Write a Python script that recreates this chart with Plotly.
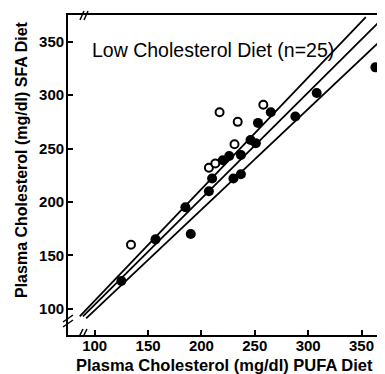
import plotly.graph_objects as go

# Data
pufa_filled = [125, 157, 190, 185, 207, 210, 230, 237, 220, 226, 237, 246, 251, 253, 265, 288, 308, 363]
sfa_filled = [126, 165, 170, 195, 210, 222, 222, 226, 239, 243, 244, 258, 255, 274, 284, 280, 302, 326]
pufa_open = [134, 207, 213, 231, 234, 217, 258]
sfa_open = [160, 232, 236, 254, 275, 284, 291]

upper_x = [86, 354]
upper_y = [93, 373]
middle_x = [89, 368]
middle_y = [93, 370]
lower_x = [92, 372]
lower_y = [91, 355]

tick_vals = [100, 150, 200, 250, 300, 350]
tick_text = ["100", "150", "200", "250", "300", "350"]

OFF = 8  # page body margin
W, H = 385 - OFF, 374 - OFF
PL, PR, PT, PB = 68, 385, 15, 335  # plot area in window pixels
L, R, T, B = PL - OFF, 0, PT - OFF, H - (PB - OFF)

fig = go.Figure()
for xs, ys in [(upper_x, upper_y), (middle_x, middle_y), (lower_x, lower_y)]:
    fig.add_trace(go.Scatter(x=xs, y=ys, mode="lines",
                             line=dict(color="black", width=1.8), showlegend=False, hoverinfo="skip"))
fig.add_trace(go.Scatter(x=pufa_filled, y=sfa_filled, mode="markers",
                         marker=dict(color="black", size=10, line=dict(width=0)), showlegend=False))
fig.add_trace(go.Scatter(x=pufa_open, y=sfa_open, mode="markers",
                         marker=dict(color="white", size=8, symbol="circle",
                                     line=dict(color="black", width=2)), showlegend=False))

font_tick = dict(family="Liberation Sans, Arial", size=15, color="black", weight="bold")

fig.update_xaxes(range=[75, 372], tickvals=tick_vals, ticktext=tick_text, ticks="inside",
                 ticklen=5, tickwidth=1.5, tickcolor="black", showline=True, linecolor="black",
                 linewidth=1.8, mirror=True, showgrid=False, zeroline=False, tickfont=font_tick,
                 ticklabelstandoff=-4)
fig.update_yaxes(range=[75.5, 375], tickvals=tick_vals, ticktext=tick_text, ticks="inside",
                 ticklen=5, tickwidth=1.5, tickcolor="black", showline=True, linecolor="black",
                 linewidth=1.8, mirror=False, showgrid=False, zeroline=False, tickfont=font_tick,
                 ticklabelstandoff=-1)

def px2paper(px, py):
    return (px - PL) / (PR - PL), (PB - py) / (PB - PT)

shapes = []
def seg(x0, y0, x1, y1):
    a, b = px2paper(x0, y0)
    c, d = px2paper(x1, y1)
    shapes.append(dict(type="line", xref="paper", yref="paper", x0=a, y0=b, x1=c, y1=d,
                       line=dict(color="black", width=1.5)))

# break marks
seg(80, 20, 84, 11); seg(84, 20, 88, 11)      # top
seg(79, 337, 83, 329); seg(83, 337, 87, 329)  # bottom x axis
seg(63, 322, 73, 315); seg(63, 327, 73, 320)  # y axis
fig.update_layout(shapes=shapes)

def ann(text, px, py, size, bold=False, angle=0, xanchor="center"):
    x, y = px2paper(px, py)
    f = dict(family="Liberation Sans, Arial", size=size, color="black")
    if bold:
        f["weight"] = "bold"
    fig.add_annotation(text=text, xref="paper", yref="paper", x=x, y=y, xanchor=xanchor,
                       yanchor="middle", textangle=angle, showarrow=False, font=f)

ann("Low Cholesterol Diet (n=25)", 90, 50, 19.5, xanchor="left")
ann("Plasma Cholesterol (mg/dl) PUFA Diet", 224, 365, 16.5, bold=True)
ann("Plasma Cholesterol (mg/dl) SFA Diet", 21, 160, 16, bold=True, angle=-90)

fig.update_layout(width=W, height=H, margin=dict(l=L, r=R, t=T, b=B),
                  plot_bgcolor="white", paper_bgcolor="white")
fig.write_html("out.html")
